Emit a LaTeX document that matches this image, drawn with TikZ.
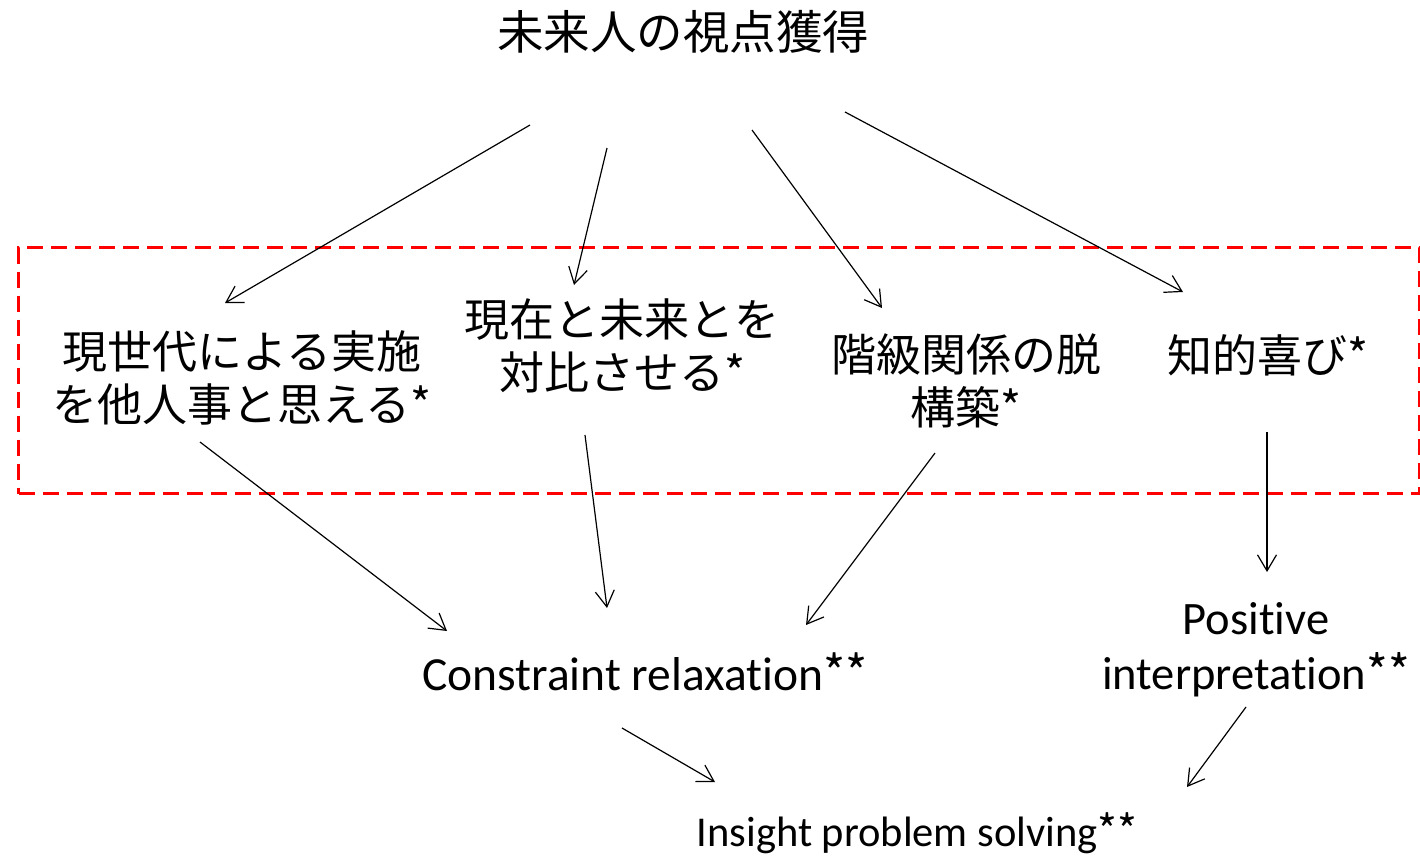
\documentclass[tikz,border=0pt]{standalone}
\usepackage{fontspec}
\setmainfont{Carlito}[RawFeature={-liga;-clig;-dlig;-calt}]
\newfontfamily\jp{Noto Sans CJK JP}
\newcommand{\stars}{{\jp **}}
\usetikzlibrary{arrows.meta}
\tikzset{
  x=1pt,y=-1pt,
  conn/.style={draw=black,line width=1.2pt,-{Straight Barb[length=16pt,width=19pt,line width=1.2pt]}},
  jptext/.style={inner sep=0pt,align=center,font=\jp\fontsize{45}{53}\selectfont},
  entext/.style={inner sep=0pt,align=center,font=\fontsize{46.5}{55}\selectfont},
  groupbox/.style={draw=red,line width=3pt,dash pattern=on 16pt off 8pt}
}
\begin{document}
\begin{tikzpicture}
\useasboundingbox (0,0) rectangle (1420,857);
\node[groupbox,minimum width=1401pt,minimum height=246pt,anchor=north west,inner sep=0pt] (box) at (17,246) {};
\node[jptext,font=\jp\fontsize{46.5}{53}\selectfont] (title) at (683,32) {未来人の視点獲得};
\node[jptext] (a) at (242,378) {現世代による実施\\を他人事と思える*};
\node[jptext] (b) at (622,346) {現在と未来とを\\対比させる*};
\node[jptext] (c) at (966,381) {階級関係の脱\\構築*};
\node[jptext] (d) at (1268,355) {知的喜び*};
\node[entext,font=\fontsize{47.5}{55}\selectfont] (cr) at (645,672) {Constraint relaxation\stars};
\node[entext] (pi) at (1256,650) {Positive\\interpretation\stars};
\node[entext,font=\fontsize{42.5}{50}\selectfont] (ips) at (917,833) {Insight problem solving\stars};
% connector end points
\coordinate (t1) at (530,125);  \coordinate (a1) at (225,303);
\coordinate (t2) at (607,148);  \coordinate (b1) at (574,285);
\coordinate (t3) at (752,130);  \coordinate (c1) at (882,308);
\coordinate (t4) at (845,112);  \coordinate (d1) at (1183,292);
\coordinate (a2) at (200,442);  \coordinate (cr1) at (447,631);
\coordinate (b2) at (585,435);  \coordinate (cr2) at (607,608);
\coordinate (c2) at (935,453);  \coordinate (cr3) at (806,625);
\coordinate (d2) at (1267,432); \coordinate (pi1) at (1267,572);
\coordinate (cr4) at (622,728); \coordinate (ips1) at (715,782);
\coordinate (pi2) at (1246,707);\coordinate (ips2) at (1187,787);
\draw[conn] (t1) -- (a1);
\draw[conn] (t2) -- (b1);
\draw[conn] (t3) -- (c1);
\draw[conn] (t4) -- (d1);
\draw[conn] (a2) -- (cr1);
\draw[conn] (b2) -- (cr2);
\draw[conn] (c2) -- (cr3);
\draw[conn] (d2) -- (pi1);
\draw[conn] (cr4) -- (ips1);
\draw[conn] (pi2) -- (ips2);
\end{tikzpicture}
\end{document}
